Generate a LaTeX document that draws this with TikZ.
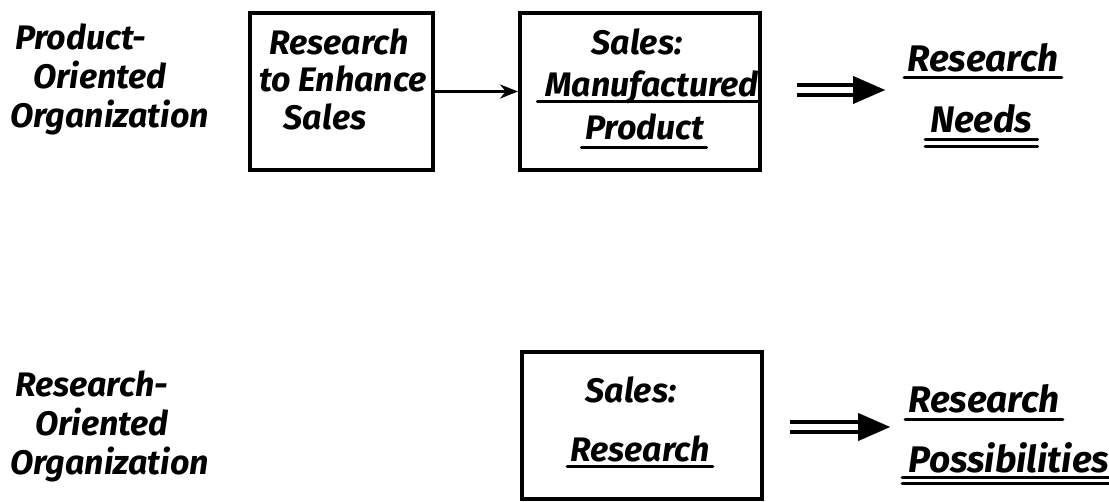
\documentclass[tikz,border=0pt]{standalone}
\usepackage{fontspec}
\setmainfont{Fira Sans}
\usetikzlibrary{arrows.meta}
\newfontfamily\handfont{Fira Sans}
\tikzset{
  hand/.style={font=\handfont\bfseries\itshape\fontsize{34}{40}\selectfont, inner sep=0pt},
  bighand/.style={font=\handfont\bfseries\itshape\fontsize{37}{44}\selectfont, inner sep=0pt},
  lbl/.style={hand, anchor=base west},
  boxtxt/.style={hand, anchor=base},
  restxt/.style={bighand, anchor=base west},
  boxframe/.style={draw, line width=4pt, inner sep=0pt},
  uline/.style={line width=3pt, line cap=round},
  thinarrow/.style={line width=3.2pt, -{Stealth[length=18pt,width=14pt]}},
  dblline/.style={line width=3.6pt},
  bighead/.style={line width=0.1pt, -{Triangle[length=32pt,width=28pt]}}
}
\begin{document}
\begin{tikzpicture}[x=1pt,y=-1pt]
\useasboundingbox (0,0) rectangle (1109,502);
% left labels
\node[lbl] (p1) at (15,50) {Product-};
\node[lbl] (p2) at (33,89) {Oriented};
\node[lbl] (p3) at (10,128) {Organization};
\node[lbl] (r1) at (15,397) {Research-};
\node[lbl] (r2) at (35,436) {Oriented};
\node[lbl] (r3) at (10,475) {Organization};
% box 1
\node[boxframe, minimum width=183pt, minimum height=157pt] (b1) at (341.5,91.5) {};
\node[boxtxt] (b1a) at (339,55) {Research};
\node[boxtxt] (b1b) at (343,92) {to Enhance};
\node[boxtxt] (b1c) at (325,130) {Sales};
% box 2
\node[boxframe, minimum width=240pt, minimum height=157pt] (b2) at (640,91.5) {};
\node[boxtxt] (b2a) at (637,55) {Sales:};
\node[boxtxt] (b2b) at (652,97) {Manufactured};
\node[boxtxt] (b2c) at (645,140) {Product};
\draw[uline] ([shift={(-8,5)}]b2b.base west) -- ([shift={(2,5)}]b2b.base east);
\draw[uline] ([shift={(-4,8)}]b2c.base west) -- ([shift={(2,8)}]b2c.base east);
\draw[thinarrow] (b1.east) -- (b2.west);
% top double arrow
\coordinate (d1s) at (797,90);
\coordinate (d1e) at (885,90);
\draw[dblline] ([yshift=5pt]d1s) -- ([shift={(-20,-5)}]d1e);
\draw[dblline] ([yshift=-5pt]d1s) -- ([shift={(-20,5)}]d1e);
\draw[bighead] ([xshift=-32pt]d1e) -- (d1e);
\node[restxt] (n1) at (907,72) {Research};
\node[restxt] (n2) at (930,133) {Needs};
\draw[uline] ([shift={(-3,6)}]n1.base west) -- ([shift={(3,6)}]n1.base east);
\draw[uline] ([shift={(-5,7)}]n2.base west) -- ([shift={(5,7)}]n2.base east);
\draw[uline] ([shift={(-5,14)}]n2.base west) -- ([shift={(5,14)}]n2.base east);
% box 3
\node[boxframe, minimum width=240pt, minimum height=147pt] (b3) at (642,425.5) {};
\node[boxtxt] (b3a) at (631,403) {Sales:};
\node[boxtxt] (b3b) at (640,462) {Research};
\draw[uline] ([shift={(-3,5)}]b3b.base west) -- ([shift={(3,5)}]b3b.base east);
% bottom double arrow
\coordinate (d2s) at (790,427);
\coordinate (d2e) at (890,427);
\draw[dblline] ([yshift=5pt]d2s) -- ([shift={(-20,-5)}]d2e);
\draw[dblline] ([yshift=-5pt]d2s) -- ([shift={(-20,5)}]d2e);
\draw[bighead] ([xshift=-32pt]d2e) -- (d2e);
\node[restxt] (m1) at (908,413) {Research};
\node[restxt] (m2) at (908,472) {Possibilities};
\draw[uline] ([shift={(-3,7)}]m1.base west) -- ([shift={(3,7)}]m1.base east);
\draw[uline] ([shift={(-6,6)}]m2.base west) -- ([shift={(4,6)}]m2.base east);
\draw[uline] ([shift={(-6,12)}]m2.base west) -- ([shift={(4,12)}]m2.base east);
\end{tikzpicture}
\end{document}
